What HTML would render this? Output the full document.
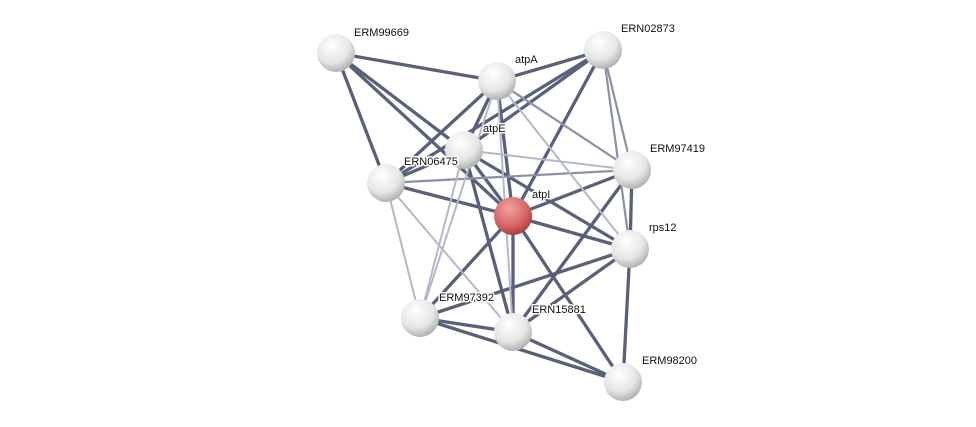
<!DOCTYPE html>
<html><head><style>
html,body{margin:0;padding:0;background:#fff;}
svg{display:block;}
text{font-family:"Liberation Sans",sans-serif;font-size:11px;fill:#111;stroke:#fff;stroke-width:3px;paint-order:stroke;stroke-linejoin:round;}
</style></head><body>
<svg width="976" height="427" viewBox="0 0 976 427" xmlns="http://www.w3.org/2000/svg">
<defs>
<radialGradient id="g" cx="0.4" cy="0.3" r="0.75">
<stop offset="0" stop-color="#ffffff"/><stop offset="0.6" stop-color="#e6e6e6"/><stop offset="1" stop-color="#a8a8a8"/>
</radialGradient>
<radialGradient id="r" cx="0.4" cy="0.3" r="0.75">
<stop offset="0" stop-color="#f2a0a0"/><stop offset="0.6" stop-color="#d86868"/><stop offset="1" stop-color="#a83838"/>
</radialGradient>
</defs>
<g stroke-linecap="round">
<g stroke="#59607a" stroke-width="3.3">
<line x1="336" y1="53" x2="497" y2="81"/>
<line x1="336" y1="53" x2="386" y2="183"/>
<line x1="336" y1="53" x2="464" y2="150"/>
<line x1="336" y1="53" x2="513" y2="216"/>
<line x1="497" y1="81" x2="603" y2="50"/>
<line x1="497" y1="81" x2="464" y2="150"/>
<line x1="497" y1="81" x2="386" y2="183"/>
<line x1="497" y1="81" x2="513" y2="216"/>
<line x1="603" y1="50" x2="464" y2="150"/>
<line x1="603" y1="50" x2="386" y2="183"/>
<line x1="603" y1="50" x2="513" y2="216"/>
<line x1="464" y1="150" x2="513" y2="216"/>
<line x1="464" y1="150" x2="386" y2="183"/>
<line x1="464" y1="150" x2="513" y2="332"/>
<line x1="464" y1="150" x2="630" y2="249"/>
<line x1="386" y1="183" x2="513" y2="216"/>
<line x1="513" y1="216" x2="632" y2="170"/>
<line x1="513" y1="216" x2="630" y2="249"/>
<line x1="513" y1="216" x2="420" y2="318"/>
<line x1="513" y1="216" x2="513" y2="332"/>
<line x1="513" y1="216" x2="623" y2="382"/>
<line x1="632" y1="170" x2="630" y2="249"/>
<line x1="632" y1="170" x2="513" y2="332"/>
<line x1="630" y1="249" x2="623" y2="382"/>
<line x1="630" y1="249" x2="513" y2="332"/>
<line x1="630" y1="249" x2="420" y2="318"/>
<line x1="420" y1="318" x2="513" y2="332"/>
<line x1="420" y1="318" x2="623" y2="382"/>
<line x1="513" y1="332" x2="623" y2="382"/>
</g>
<g stroke="#8a90a6" stroke-width="2.2">
<line x1="497" y1="81" x2="632" y2="170"/>
<line x1="603" y1="50" x2="632" y2="170"/>
<line x1="603" y1="50" x2="630" y2="249"/>
<line x1="386" y1="183" x2="632" y2="170"/>
</g>
<g stroke="#b4b8c8" stroke-width="2">
<line x1="497" y1="81" x2="630" y2="249"/>
<line x1="464" y1="150" x2="632" y2="170"/>
<line x1="464" y1="150" x2="420" y2="318"/>
<line x1="497" y1="81" x2="420" y2="318"/>
<line x1="386" y1="183" x2="420" y2="318"/>
<line x1="386" y1="183" x2="513" y2="332"/>
<line x1="497" y1="81" x2="513" y2="332"/>
</g>
</g>
<g>
<circle cx="336" cy="53" r="19" fill="url(#g)"/>
<circle cx="497" cy="81" r="19" fill="url(#g)"/>
<circle cx="603" cy="50" r="19" fill="url(#g)"/>
<circle cx="464" cy="150" r="19" fill="url(#g)"/>
<circle cx="386" cy="183" r="19" fill="url(#g)"/>
<circle cx="632" cy="170" r="19" fill="url(#g)"/>
<circle cx="513" cy="216" r="19" fill="url(#r)"/>
<circle cx="630" cy="249" r="19" fill="url(#g)"/>
<circle cx="420" cy="318" r="19" fill="url(#g)"/>
<circle cx="513" cy="332" r="19" fill="url(#g)"/>
<circle cx="623" cy="382" r="19" fill="url(#g)"/>
</g>
<g>
<text x="354" y="36">ERM99669</text>
<text x="515" y="63">atpA</text>
<text x="621" y="32">ERN02873</text>
<text x="483" y="132">atpE</text>
<text x="404" y="165">ERN06475</text>
<text x="650" y="152">ERM97419</text>
<text x="532" y="198">atpI</text>
<text x="649" y="231">rps12</text>
<text x="439" y="301">ERM97392</text>
<text x="532" y="313">ERN15881</text>
<text x="642" y="364">ERM98200</text>
</g>
</svg>
</body></html>
